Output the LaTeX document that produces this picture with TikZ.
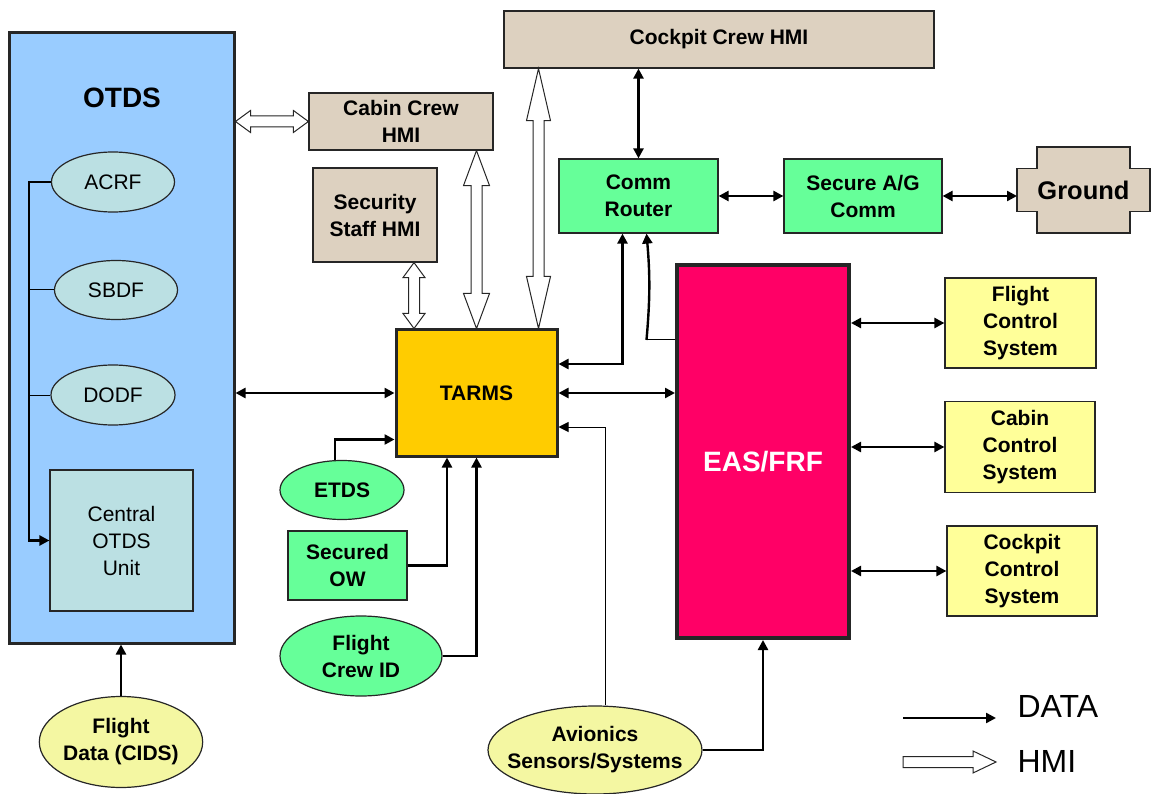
\documentclass[tikz,border=0pt]{standalone}
\usepackage{fontspec}
\setmainfont{Liberation Sans}
\usetikzlibrary{arrows.meta,calc,positioning,shapes.geometric}
\definecolor{otdsblue}{HTML}{99CCFF}
\definecolor{paleteal}{HTML}{BBE0E3}
\definecolor{hmitan}{HTML}{DDD1C0}
\definecolor{commgreen}{HTML}{66FF99}
\definecolor{tarmsgold}{HTML}{FFCC00}
\definecolor{easrose}{HTML}{FF0066}
\definecolor{sysyellow}{HTML}{FFFF99}
\definecolor{srcyellow}{HTML}{F4F7A2}
% hollow HMI arrows: #1 first end, #2 second end, #3 head length, #4 head half width
\newcommand{\hmivert}[4]{%
 \draw[hmi] let \p1=(#1), \p2=(#2) in
 (\x1,\y1) -- (\x1+#4,\y1-#3) -- (\x1+5.5pt,\y1-#3) -- (\x1+5.5pt,\y2+#3) -- (\x1+#4,\y2+#3)
 -- (\x1,\y2) -- (\x1-#4,\y2+#3) -- (\x1-5.5pt,\y2+#3) -- (\x1-5.5pt,\y1-#3) -- (\x1-#4,\y1-#3) -- cycle;}
\newcommand{\hmihoriz}[4]{%
 \draw[hmi] let \p1=(#1), \p2=(#2) in
 (\x1,\y1) -- (\x1+#3,\y1+#4) -- (\x1+#3,\y1+5.5pt) -- (\x2-#3,\y1+5.5pt) -- (\x2-#3,\y1+#4)
 -- (\x2,\y1) -- (\x2-#3,\y1-#4) -- (\x2-#3,\y1-5.5pt) -- (\x1+#3,\y1-5.5pt) -- (\x1+#3,\y1-#4) -- cycle;}
\newcommand{\hmisingle}[4]{%
 \draw[hmi] let \p1=(#1), \p2=(#2) in
 (\x1,\y1+5.5pt) -- (\x2-#3,\y1+5.5pt) -- (\x2-#3,\y1+#4) -- (\x2,\y1) -- (\x2-#3,\y1-#4)
 -- (\x2-#3,\y1-5.5pt) -- (\x1,\y1-5.5pt) -- cycle;}

\begin{document}
\begin{tikzpicture}[x=1pt,y=-1pt,>={Triangle[length=10pt,width=10pt]},
 box/.style={draw=black!85,line width=1.2pt,align=center,inner sep=2pt,font=\fontsize{21}{27}\selectfont\bfseries},
 oval/.style={box,ellipse,inner sep=0pt},
 plain/.style={font=\fontsize{21}{27}\selectfont},
 data/.style={line width=2.4pt},
 wire/.style={line width=1pt},
 hmi/.style={draw=black!85,fill=white,line width=1pt}]
\useasboundingbox (0,0) rectangle (1154,794);
% OTDS and its parts
\node[box,fill=otdsblue,line width=3pt,minimum width=225pt,minimum height=610pt] (otds) at (121.5,338) {};
\node[font=\fontsize{28}{32}\selectfont\bfseries] (otdslbl) at (122,98) {OTDS};
\node[oval,plain,fill=paleteal,minimum width=123pt,minimum height=60pt] (acrf) at (113,182) {ACRF};
\node[oval,plain,fill=paleteal,minimum width=123pt,minimum height=59pt] (sbdf) at (116,290) {SBDF};
\node[oval,plain,fill=paleteal,minimum width=124pt,minimum height=60pt] (dodf) at (113,395) {DODF};
\node[box,plain,fill=paleteal,minimum width=143pt,minimum height=141pt] (central) at (121.5,540.5) {Central\\OTDS\\Unit};
\node[oval,fill=srcyellow,minimum width=162pt,minimum height=91pt] (fdata) at (121,742) {Flight\\Data (CIDS)};
% HMI boxes
\node[box,fill=hmitan,minimum width=184pt,minimum height=57pt] (cabin) at (401,121.5) {Cabin Crew\\HMI};
\node[box,fill=hmitan,minimum width=124pt,minimum height=94pt] (security) at (375,215) {Security\\Staff HMI};
\node[box,fill=hmitan,minimum width=430pt,minimum height=57pt] (cockpit) at (719,39.5) {Cockpit Crew HMI};
% communication
\node[box,fill=commgreen,minimum width=159pt,minimum height=74pt] (router) at (638.5,196) {Comm\\Router};
\node[box,fill=commgreen,minimum width=158pt,minimum height=74pt] (secure) at (863,196) {Secure A/G\\Comm};
\node[minimum width=133pt,minimum height=86pt,inner sep=0pt,outer sep=0pt] (ground) at (1083.5,190) {};
\draw[draw=black!85,line width=1.2pt,fill=hmitan] ([xshift=20pt]ground.north west) -- ++(93,0) -- ++(0,21.5)
 -- ++(20,0) -- ++(0,43) -- ++(-20,0) -- ++(0,21.5) -- ++(-93,0) -- ++(0,-21.5) -- ++(-20,0) -- ++(0,-43) -- ++(20,0) -- cycle;
\node[font=\fontsize{25.5}{30}\selectfont\bfseries] (groundlbl) at (ground) {Ground};
% TARMS and its sources
\node[box,fill=tarmsgold,line width=3pt,minimum width=161pt,minimum height=126pt] (tarms) at (476.5,393) {TARMS};
\node[oval,fill=commgreen,minimum width=124pt,minimum height=59pt] (etds) at (342,490) {ETDS};
\node[box,fill=commgreen,minimum width=119pt,minimum height=69pt] (secow) at (347.5,565.5) {Secured\\OW};
\node[oval,fill=commgreen,minimum width=162pt,minimum height=80pt] (fcid) at (361,656) {Flight\\Crew ID};
\node[oval,fill=srcyellow,minimum width=214pt,minimum height=88pt] (avionics) at (595,750) {};
\node[box,draw=none] (avionicslbl) at (avionics) {Avionics\\Sensors/Systems};
% EAS/FRF and controlled systems
\node[box,fill=easrose,line width=4pt,minimum width=172pt,minimum height=373pt] (eas) at (763,451.5) {};
\node[text=white,font=\fontsize{28}{32}\selectfont\bfseries] (easlbl) at ([yshift=-10pt]eas.center) {EAS/FRF};
\node[box,fill=sysyellow,minimum width=151pt,minimum height=90pt] (fcs) at (1020.5,323) {Flight\\Control\\System};
\node[box,fill=sysyellow,minimum width=150pt,minimum height=91pt] (ccs) at (1020,447) {Cabin\\Control\\System};
\node[box,fill=sysyellow,minimum width=150pt,minimum height=90pt] (kcs) at (1022,571) {Cockpit\\Control\\System};
% data links
\coordinate (bus) at (29,185);
\draw[data,->] (acrf.west) -- (acrf.west -| bus) |- (central.west);
\draw[wire] (sbdf.west) -- (sbdf.west -| bus);
\draw[wire] (dodf.west) -- (dodf.west -| bus);
\draw[data,->] (fdata.north) -- (fdata.north |- otds.south);
\draw[data,<->] (otds.east |- tarms.west) -- (tarms.west);
\draw[data,->] ([xshift=-7pt]etds.north) |- ([yshift=18pt]tarms.south west);
\draw[data,->] (secow.east) -| ([xshift=-29.5pt]tarms.south);
\draw[data,->] (fcid.east) -| (tarms.south);
\coordinate (av1) at ([xshift=10pt]avionics.north);
\draw[wire,->] (av1) |- ([yshift=-34pt]tarms.east);
\draw[data,->] (avionics.east) -| (eas.south);
\draw[data,<->] (tarms.east) -- (tarms.east -| eas.west);
\coordinate (rt1) at ([xshift=-16pt]router.south);
\draw[data,<->] (rt1) |- ([yshift=29pt]tarms.east);
\coordinate (rt2) at ([xshift=8pt]router.south);
\coordinate (es1) at ([yshift=-77pt]eas.north west);
\draw[wire] (es1) -- (es1 -| rt2);
\draw[data,->] (es1 -| rt2) to[bend right=5] (rt2);
\draw[data,<->] (cockpit.south -| router.north) -- (router.north);
\draw[data,<->] (router.east) -- (secure.west);
\draw[data,<->] (secure.east) -- (secure.east -| ground.west);
\foreach \sys in {fcs,ccs,kcs}
 \draw[data,<->] (eas.east |- \sys.west) -- (\sys.west);
% HMI links
\coordinate (h1) at (otds.east |- cabin.west);
\hmihoriz{h1}{cabin.west}{15pt}{11pt}
\hmivert{cabin.south -| tarms.north}{tarms.north}{35pt}{13pt}
\coordinate (sec1) at ([xshift=39pt]security.south);
\hmivert{sec1}{sec1 |- tarms.north}{15pt}{11pt}
\coordinate (ck1) at ([xshift=-20pt]tarms.north east);
\hmivert{ck1 |- cockpit.south}{ck1}{52pt}{12pt}
% legend
\coordinate (dataA) at (903,718);
\coordinate (dataB) at (996,718);
\draw[data,->] (dataA) -- (dataB);
\node[font=\fontsize{32}{36}\selectfont,anchor=west] (datalbl) at (1014,706) {DATA};
\coordinate (hmiA) at (903,762);
\coordinate (hmiB) at (996,762);
\hmisingle{hmiA}{hmiB}{23pt}{11pt}
\node[font=\fontsize{32}{36}\selectfont,anchor=west] (hmilbl) at (1014,761) {HMI};
\end{tikzpicture}
\end{document}
